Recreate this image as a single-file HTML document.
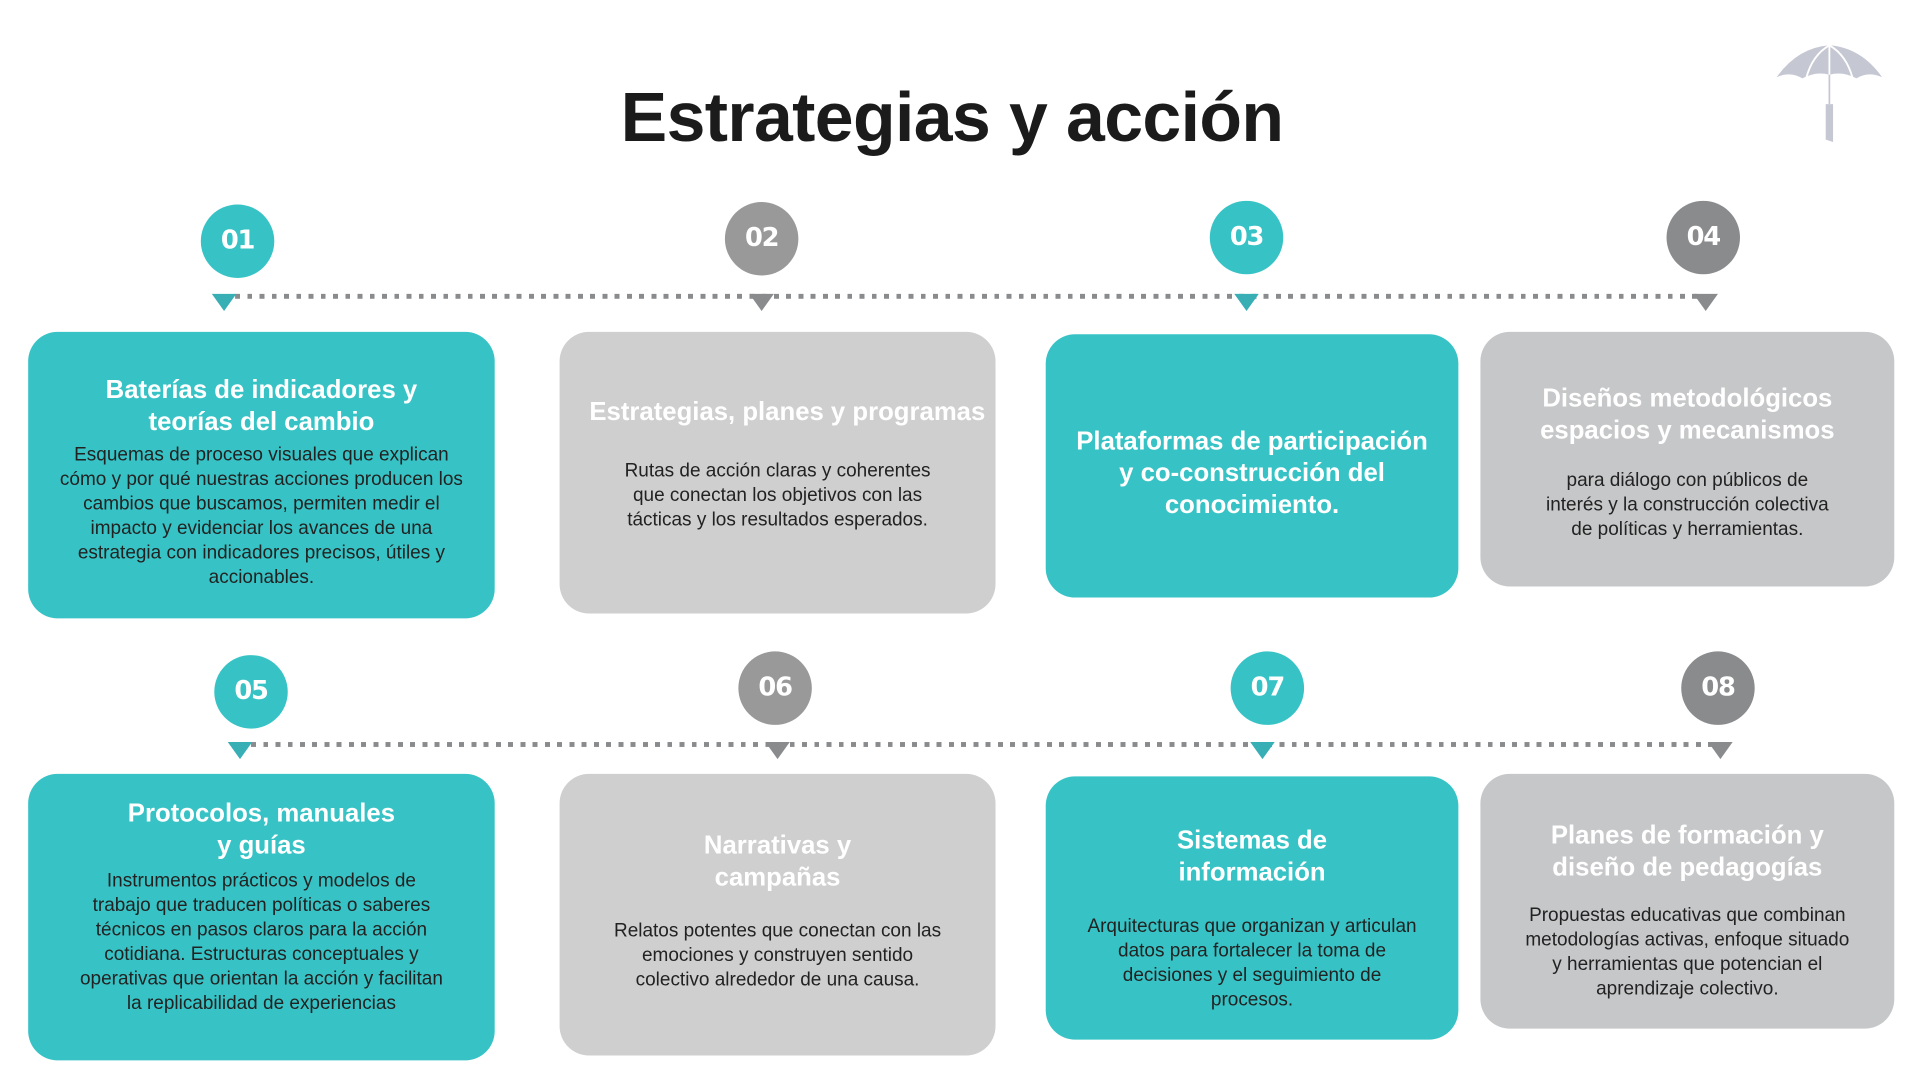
<!DOCTYPE html>
<html><head><meta charset="utf-8"><style>
html,body{margin:0;padding:0;background:#fff;width:1920px;height:1080px;overflow:hidden}
#s{position:absolute;left:0;top:0;width:1568px;height:882px;transform:scale(1.22449);transform-origin:0 0;font-family:"Liberation Sans",sans-serif}
h1{position:absolute;left:0;width:1555px;top:63px;margin:0;text-align:center;font-size:57px;font-weight:bold;color:#1b1b1b;letter-spacing:-0.5px}
.c{position:absolute;width:60px;height:60px;border-radius:50%;color:#fff;font-weight:900;font-size:21px;text-align:center;line-height:58px;font-family:"DejaVu Sans","Liberation Sans",sans-serif;letter-spacing:-1px}
.t{background:#37c3c5}.g{background:#999}.g2{background:#8a8b8d}
.tri{position:absolute;width:0;height:0;border-left:10px solid transparent;border-right:10px solid transparent;border-top:14px solid #38aeb5}
.tri.gr{border-top-color:#8a8b8d}
.dl{position:absolute;height:4px;background:repeating-linear-gradient(90deg,#8a8b8d 0 4px,transparent 4px 10px)}
.b{position:absolute;border-radius:24px;text-align:center;box-sizing:border-box}
.b.t{background:#37c3c5}.b.g{background:#cfcfcf}.b.g4{background:#c6c7c8}
.b h2{margin:0;font-size:21px;line-height:26px;color:#fff;font-weight:bold}
.b p{margin:0;font-size:15.5px;line-height:20px;color:#222}
</style></head><body><div id="s">
<h1>Estrategias y acción</h1>
<svg style="position:absolute;left:1448px;top:33px" width="92" height="84" viewBox="0 0 92 84">
<path d="M3 30 Q20 6 46 4 Q72 6 89 30 Q78 25 68 31 Q57 25 46 28 Q35 25 24 31 Q14 25 3 30Z" fill="#c5c7d3"/>
<path d="M46 4 L46 28 M46 4 Q32 12 27 31 M46 4 Q60 12 65 31" stroke="#fff" stroke-width="1.5" fill="none"/>
<path d="M43 52 L49 52 L49 83 L43 81Z" fill="#c5c7d3"/>
<rect x="45.3" y="28" width="1.4" height="24" fill="#c5c7d3"/>
</svg>

<div class="dl" style="left:192px;width:1200px;top:240px"></div>
<div class="dl" style="left:205px;width:1200px;top:606px"></div>

<div class="c t" style="left:164px;top:167px">01</div>
<div class="c g" style="left:592px;top:165px">02</div>
<div class="c t" style="left:988px;top:164px">03</div>
<div class="c g2" style="left:1361px;top:164px">04</div>
<div class="c t" style="left:175px;top:535px">05</div>
<div class="c g" style="left:603px;top:532px">06</div>
<div class="c t" style="left:1005px;top:532px">07</div>
<div class="c g2" style="left:1373px;top:532px">08</div>

<div class="tri" style="left:173px;top:240px"></div>
<div class="tri gr" style="left:612px;top:240px"></div>
<div class="tri" style="left:1008px;top:240px"></div>
<div class="tri gr" style="left:1383px;top:240px"></div>
<div class="tri" style="left:186px;top:606px"></div>
<div class="tri gr" style="left:625px;top:606px"></div>
<div class="tri" style="left:1021px;top:606px"></div>
<div class="tri gr" style="left:1395px;top:606px"></div>

<div class="b t" style="left:23px;top:271px;width:381px;height:234px;padding:35px 10px 0">
<h2>Baterías de indicadores y<br>teorías del cambio</h2>
<p style="margin-top:4px">Esquemas de proceso visuales que explican<br>cómo y por qué nuestras acciones producen los<br>cambios que buscamos, permiten medir el<br>impacto y evidenciar los avances de una<br>estrategia con indicadores precisos, útiles y<br>accionables.</p></div>

<div class="b g" style="left:457px;top:271px;width:356px;height:230px;padding:53px 0 0">
<h2 style="margin-left:16px">Estrategias, planes y programas</h2>
<p style="margin-top:25px">Rutas de acción claras y coherentes<br>que conectan los objetivos con las<br>tácticas y los resultados esperados.</p></div>

<div class="b t" style="left:854px;top:273px;width:337px;height:215px;padding:75px 0 0">
<h2>Plataformas de participación<br>y co-construcción del<br>conocimiento.</h2></div>

<div class="b g4" style="left:1209px;top:271px;width:338px;height:208px;padding:42px 0 0">
<h2>Diseños metodológicos<br>espacios y mecanismos</h2>
<p style="margin-top:18px">para diálogo con públicos de<br>interés y la construcción colectiva<br>de políticas y herramientas.</p></div>

<div class="b t" style="left:23px;top:632px;width:381px;height:234px;padding:20px 0 0">
<h2>Protocolos, manuales<br>y guías</h2>
<p style="margin-top:6px">Instrumentos prácticos y modelos de<br>trabajo que traducen políticas o saberes<br>técnicos en pasos claros para la acción<br>cotidiana. Estructuras conceptuales y<br>operativas que orientan la acción y facilitan<br>la replicabilidad de experiencias</p></div>

<div class="b g" style="left:457px;top:632px;width:356px;height:230px;padding:46px 0 0">
<h2>Narrativas y<br>campañas</h2>
<p style="margin-top:21px">Relatos potentes que conectan con las<br>emociones y construyen sentido<br>colectivo alrededor de una causa.</p></div>

<div class="b t" style="left:854px;top:634px;width:337px;height:215px;padding:40px 0 0">
<h2>Sistemas de<br>información</h2>
<p style="margin-top:21px">Arquitecturas que organizan y articulan<br>datos para fortalecer la toma de<br>decisiones y el seguimiento de<br>procesos.</p></div>

<div class="b g4" style="left:1209px;top:632px;width:338px;height:208px;padding:38px 0 0">
<h2>Planes de formación y<br>diseño de pedagogías</h2>
<p style="margin-top:16px">Propuestas educativas que combinan<br>metodologías activas, enfoque situado<br>y herramientas que potencian el<br>aprendizaje colectivo.</p></div>
</div></body></html>
